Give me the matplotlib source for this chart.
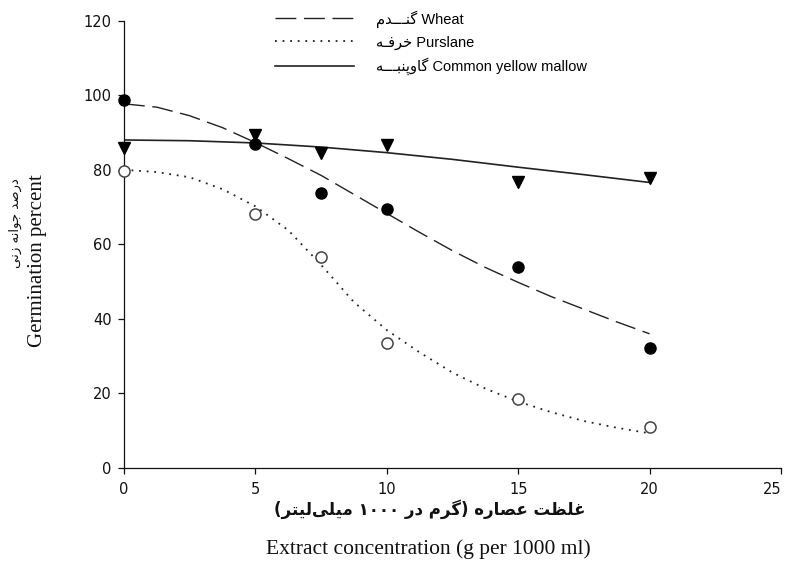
import matplotlib
matplotlib.use("Agg")
import matplotlib.pyplot as plt
from matplotlib.lines import Line2D

# ---------------- data ----------------
conc = [0, 5, 7.5, 10, 15, 20]
wheat_obs = [98.6, 86.8, 73.9, 69.6, 53.8, 32.3]
purslane_obs = [79.8, 68.2, 56.5, 33.5, 18.4, 10.9]
mallow_obs = [85.8, 89.3, 84.6, 86.7, 76.8, 77.9]

# fitted curves
fit_x = [0, 1.25, 2.5, 3.75, 5, 6.25, 7.5, 8.75, 10, 11.25, 12.5, 13.75, 15, 16.25, 17.5, 18.75, 20]
wheat_fit = [97.7, 96.8, 94.5, 91.3, 87.3, 83.0, 78.5, 73.4, 68.3, 63.2, 58.3, 53.8, 49.8, 46.0, 42.6, 39.2, 36.0]
purslane_fit = [80.0, 79.4, 78.0, 74.8, 70.2, 63.8, 54.5, 44.5, 37.0, 31.0, 25.6, 21.3, 17.8, 15.0, 12.6, 10.8, 9.3]
mallow_fit_x = [0, 2.5, 5, 7.5, 10, 12.5, 15, 17.5, 20]
mallow_fit = [88.0, 87.8, 87.2, 86.1, 84.6, 82.8, 80.7, 78.7, 76.6]

x_ticks = [0, 5, 10, 15, 20, 25]
y_ticks = [0, 20, 40, 60, 80, 100, 120]

# Persian text in visual (left-to-right) order with presentation forms
fa_wheat = "\uFEE1\uFEAA\u0640\u0640\u0640\uFEE8\uFB94"          # گندم
fa_purslane = "\uFEEA\u0640\uFED3\uFEAE\uFEA7"                     # خرفه
fa_mallow = "\uFEEA\u0640\u0640\u0640\uFE92\uFEE8\uFB58\uFEED\uFE8E\uFB94"  # گاوپنبه
fa_ylabel = "\uFBFD\uFEE7\uFEAF \uFEEA\uFEE7\uFE8D\uFEEE\uFE9F \uFEAA\uFEBB\uFEAD\uFEA9"  # درصد جوانه زنی
fa_xlabel = ("(" + "\uFEAE\uFE98\uFBFF\uFEDF" + "\uFBFD\uFEE0\uFBFF\uFEE3" + " "
             + "\u06F1\u06F0\u06F0\u06F0" + " " + "\uFEAD\uFEA9" + " "
             + "\uFEE1\uFEAE\uFB94" + ")" + " " + "\uFEE9\uFEAD\uFE8E\uFEBC\uFECB"
             + " " + "\uFE96\uFEC8\uFEE0\uFECF")  # غلظت عصاره (گرم در ۱۰۰۰ میلی‌لیتر)

labels = [fa_wheat + " Wheat", fa_purslane + " Purslane", fa_mallow + " Common yellow mallow"]

plt.rcParams['font.family'] = ['Liberation Sans', 'DejaVu Sans']

fig = plt.figure(figsize=(7.88, 5.75), dpi=100)
ax = fig.add_axes([124/788, 1 - 468/575, (781-124)/788, (468-20.7)/575])

dash = (0, (15, 5.5))
dot = (0, (1.0, 3.2))

ax.plot(fit_x, wheat_fit, color='#222222', lw=1.0, linestyle=dash, zorder=2)
ax.plot(fit_x, purslane_fit, color='#222222', lw=1.3, linestyle=dot, zorder=2)
ax.plot(mallow_fit_x, mallow_fit, color='#222222', lw=1.2, linestyle='-', zorder=2)

ax.plot(conc, wheat_obs, 'o', ms=8, color='black', zorder=4, clip_on=False)
ax.plot(conc, purslane_obs, 'o', ms=8, mfc='white', mec='#444444', mew=1.1, zorder=4, clip_on=False)
ax.plot(conc, mallow_obs, 'v', ms=9, color='black', zorder=4, clip_on=False)

ax.set_xlim(0, 25)
ax.set_ylim(0, 120)
ax.set_xticks(x_ticks)
ax.set_yticks(y_ticks)
ax.tick_params(direction='out', length=4, width=0.9, labelsize=10.5, colors='#111111')
ax.tick_params(axis='x', pad=6)
ax.tick_params(axis='y', pad=5)
for lab in ax.get_xticklabels() + ax.get_yticklabels():
    lab.set_family(['DejaVu Sans'])
ax.get_xticklabels()[-1].set_horizontalalignment('right')
for s in ['top', 'right']:
    ax.spines[s].set_visible(False)
for s in ['left', 'bottom']:
    ax.spines[s].set_linewidth(0.9)
    ax.spines[s].set_color('#111111')

handles = [Line2D([], [], color='#222222', lw=1.0, linestyle=dash),
           Line2D([], [], color='#222222', lw=1.3, linestyle=dot),
           Line2D([], [], color='#222222', lw=1.2, linestyle='-')]
leg = fig.legend(handles, labels, loc='upper left', bbox_to_anchor=(262/788, 1 + 3/575),
                 frameon=False, handlelength=5.4, handletextpad=1.5,
                 labelspacing=0.55, prop={'family': ['Liberation Sans', 'DejaVu Sans'], 'size': 10.5})

fig.text(430/788, 1 - 509/575, fa_xlabel, ha='center', va='center', fontsize=12,
         family=['DejaVu Sans'], fontweight='bold', color='#111111')
fig.text(428/788, 1 - 549/575, "Extract concentration (g per 1000 ml)", ha='center', va='center',
         fontsize=15.5, family=['Liberation Serif', 'DejaVu Serif'], color='#111111')
fig.text(15/788, 1 - 178/575, fa_ylabel, rotation=90, ha='center', va='top', fontsize=9.5,
         family=['DejaVu Sans'], color='#111111')
fig.text(38/788, 1 - 174/575, "Germination percent", rotation=90, ha='center', va='top',
         fontsize=15, family=['Liberation Serif', 'DejaVu Serif'], color='#111111')

fig.savefig('out.png', dpi=100)
